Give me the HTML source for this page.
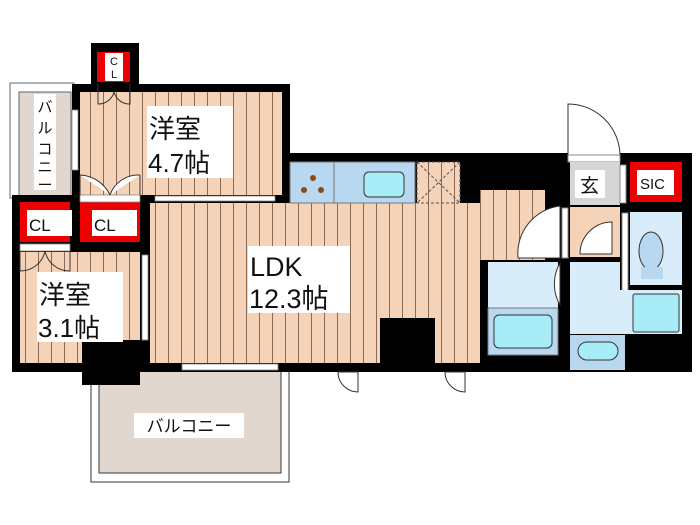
<!DOCTYPE html>
<html><head><meta charset="utf-8"><style>
html,body{margin:0;padding:0;background:#fff}
svg{display:block}
text{font-family:"Liberation Sans","Noto Sans CJK JP",sans-serif;fill:#111}
</style></head><body>
<svg width="700" height="525" viewBox="0 0 700 525" xmlns="http://www.w3.org/2000/svg">
<defs>
<pattern id="wd" width="13" height="10" patternUnits="userSpaceOnUse">
<rect width="13" height="10" fill="#f4d3b8"/><rect x="12" width="1.3" height="10" fill="#8a6a55"/>
</pattern>
</defs>
<rect x="10" y="83" width="64" height="115" fill="#fff" stroke="#666" stroke-width="1"/>
<rect x="19" y="92" width="52" height="104" fill="#e2d7cf" stroke="#666" stroke-width="1"/>
<rect x="34" y="94" width="22" height="96" fill="#fff"/>
<text x="45" y="112" font-size="15" text-anchor="middle">バ</text>
<text x="45" y="133" font-size="15" text-anchor="middle">ル</text>
<text x="45" y="154" font-size="15" text-anchor="middle">コ</text>
<text x="45" y="172" font-size="15" text-anchor="middle">ニ</text>
<text x="45" y="190" font-size="15" text-anchor="middle">ー</text>
<rect x="91" y="365" width="198" height="117" fill="#fff" stroke="#555" stroke-width="1.2"/>
<rect x="99" y="365" width="182" height="108" fill="#e2d7cf" stroke="#555" stroke-width="1.2"/>
<rect x="134" y="413" width="110" height="25" fill="#fff"/>
<text x="189" y="432" font-size="17" text-anchor="middle">バルコニー</text>
<rect x="72" y="84" width="218" height="117" fill="#000"/>
<rect x="91" y="43" width="48" height="45" fill="#000"/>
<rect x="97" y="52" width="33" height="30" fill="#e00"/>
<rect x="105" y="53" width="18" height="28" fill="#fff"/>
<text x="114" y="65" font-size="11" text-anchor="middle">C</text>
<text x="114" y="78" font-size="11" text-anchor="middle">L</text>
<rect x="12" y="195" width="140" height="177" fill="#000"/>
<rect x="140" y="153" width="552" height="219" fill="#000"/>
<rect x="80" y="92" width="202" height="103" fill="url(#wd)"/>
<rect x="147" y="106" width="86" height="72" fill="#fff"/>
<text x="149" y="138" font-size="26">洋室</text>
<text x="148" y="172" font-size="26">4.7帖</text>
<rect x="20" y="202" width="50" height="40" fill="#e00"/>
<rect x="27" y="210" width="45" height="26" fill="#fff"/>
<text x="29" y="231" font-size="17">CL</text>
<rect x="80" y="202" width="60" height="40" fill="#e00"/>
<rect x="92" y="210" width="45" height="26" fill="#fff"/>
<text x="94" y="231" font-size="17">CL</text>
<rect x="20" y="252" width="120" height="111" fill="url(#wd)"/>
<rect x="82" y="340" width="58" height="45" fill="#000"/>
<rect x="37" y="272" width="86" height="70" fill="#fff"/>
<text x="39" y="304" font-size="26">洋室</text>
<text x="38" y="337" font-size="26">3.1帖</text>
<rect x="150" y="203" width="330" height="160" fill="url(#wd)"/>
<rect x="480" y="190" width="65" height="70" fill="url(#wd)"/>
<rect x="380" y="318" width="55" height="46" fill="#000"/>
<rect x="436" y="258" width="44" height="105" fill="url(#wd)"/>
<rect x="248" y="246" width="102" height="67" fill="#fff"/>
<text x="250" y="276" font-size="27">LDK</text>
<text x="249" y="308" font-size="27">12.3帖</text>
<rect x="290" y="162" width="125" height="41" fill="#b8d7f0" stroke="#777"/>
<line x1="334" y1="162" x2="334" y2="203" stroke="#777"/>
<rect x="364" y="172" width="40" height="25" rx="5" fill="#a8ecf8" stroke="#333"/>
<circle cx="313" cy="178" r="3" fill="#8a4a1a"/><circle cx="304" cy="190" r="3" fill="#8a4a1a"/><circle cx="321" cy="190" r="3" fill="#8a4a1a"/>
<rect x="417" y="162" width="43" height="41" fill="url(#wd)" stroke="#555" stroke-dasharray="3,2"/>
<path d="M417 162 L460 203 M460 162 L417 203" stroke="#555" stroke-dasharray="3,2"/>
<rect x="155" y="196" width="120" height="5" fill="#fff" stroke="#888" stroke-width=".8"/>
<rect x="80" y="195" width="60" height="7" fill="#fff" stroke="#888" stroke-width=".8"/>
<rect x="20" y="244" width="50" height="7" fill="#fff" stroke="#888" stroke-width=".8"/>
<rect x="142" y="255" width="6" height="85" fill="#fff" stroke="#888" stroke-width=".8"/>
<rect x="72" y="110" width="6" height="60" fill="#fff" stroke="#888" stroke-width=".8"/>
<rect x="182" y="364" width="96" height="6" fill="#fff" stroke="#888" stroke-width=".8"/>
<path d="M80 175 A35 35 0 0 1 110 195 M140 175 A30 30 0 0 0 110 195 M80 175 V195 M140 175V195" fill="#fff" stroke="#333"/>
<path d="M98 84 v20 A16 16 0 0 0 114 92 M130 84 v20 A16 16 0 0 1 114 92" fill="none" stroke="#333"/>
<path d="M20 251 v20 A25 25 0 0 0 45 251 M70 251 v20 A25 25 0 0 1 45 251" fill="none" stroke="#333"/>
<path d="M338 372 h20 v20 A20 20 0 0 1 338 372" fill="#fff" stroke="#333"/>
<path d="M445 372 h20 v20 A20 20 0 0 1 445 372" fill="#fff" stroke="#333"/>
<path d="M568 155 V104 A52 52 0 0 1 620 155 Z" fill="#fff" stroke="#333"/>
<rect x="568" y="155" width="52" height="7" fill="#fff" stroke="#888"/>
<rect x="570" y="162" width="50" height="43" fill="#d6d6d6"/>
<rect x="575" y="170" width="30" height="28" fill="#fff"/>
<text x="580" y="192" font-size="19">玄</text>
<rect x="620" y="165" width="6" height="38" fill="#fff" stroke="#888"/>
<rect x="630" y="162" width="52" height="40" fill="#e00"/>
<rect x="637" y="170" width="37" height="25" fill="#fff"/>
<text x="640" y="189" font-size="15">SIC</text>
<rect x="570" y="207" width="50" height="50" fill="#f4d3b8"/>
<path d="M560 258 V206 A48 48 0 0 0 518 258 Z" fill="#fff" stroke="#333"/>
<path d="M612 254 V222 A32 32 0 0 0 580 254 Z" fill="#fff" stroke="#333"/>
<rect x="562" y="208" width="6" height="50" fill="#fff" stroke="#888"/>
<rect x="630" y="212" width="52" height="73" fill="#d8ecfa"/>
<ellipse cx="651" cy="251" rx="12" ry="19" fill="#b8d7f0" stroke="#333"/>
<rect x="641" y="267" width="22" height="12" fill="#b8d7f0"/>
<rect x="622" y="213" width="6" height="78" fill="#fff" stroke="#888"/>
<rect x="488" y="262" width="70" height="93" fill="#d8ecfa"/>
<rect x="488" y="308" width="70" height="47" fill="#b8d7f0" stroke="#777"/>
<rect x="494" y="315" width="58" height="33" rx="5" fill="#a8ecf8" stroke="#333"/>
<path d="M560 263 V305 A42 42 0 0 1 560 263 Z" fill="#fff" stroke="#333"/>
<rect x="570" y="262" width="50" height="72" fill="#d8ecfa"/>
<rect x="620" y="290" width="62" height="44" fill="#d8ecfa"/>
<rect x="633" y="294" width="46" height="38" rx="2" fill="#a8ecf8" stroke="#333"/>
<rect x="570" y="335" width="55" height="35" fill="#b8d7f0"/>
<rect x="578" y="342" width="40" height="18" rx="9" fill="#a8ecf8" stroke="#333"/>
</svg>
</body></html>
